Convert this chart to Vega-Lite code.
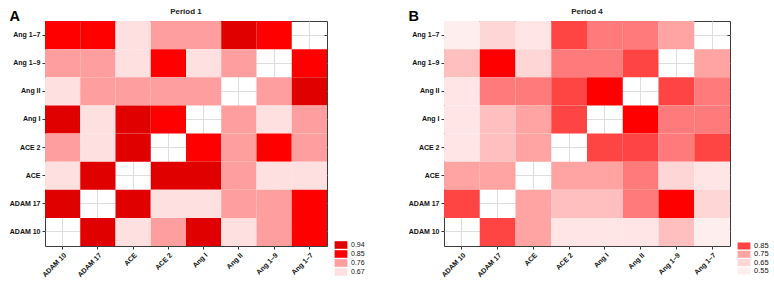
{
  "$schema": "https://vega.github.io/schema/vega-lite/v6.json",
  "padding": {"left": 8, "top": 7, "right": 0, "bottom": 0},
  "background": "white",
  "config": {
    "font": "Liberation Sans",
    "view": {"stroke": "#3c3c3c", "strokeWidth": 1},
    "rect": {"opacity": 1, "strokeWidth": 0},
    "axis": {
      "zindex": 0,
      "domain": false,
      "grid": true,
      "gridColor": "#dedede",
      "gridWidth": 1,
      "ticks": true,
      "tickColor": "#333333",
      "tickSize": 3,
      "labelFont": "Liberation Sans",
      "labelFontSize": 7,
      "labelFontWeight": "bold",
      "labelColor": "#111111",
      "labelPadding": 2
    },
    "title": {"font": "Liberation Sans", "fontSize": 8, "fontWeight": "bold", "color": "#222222", "offset": -7},
    "legend": {
      "labelFont": "Liberation Sans",
      "labelColor": "#111111",
      "symbolStrokeColor": "#333333",
      "symbolStrokeWidth": 1,
      "symbolOpacity": 1,
      "symbolSize": 64,
      "labelOffset": 6,
      "padding": 0
    }
  },
  "datasets": {
    "corr": [
      {"p": "Period 1", "y": "Ang 1–7", "x": "ADAM 10", "r": 0.85},
      {"p": "Period 1", "y": "Ang 1–7", "x": "ADAM 17", "r": 0.85},
      {"p": "Period 1", "y": "Ang 1–7", "x": "ACE", "r": 0.67},
      {"p": "Period 1", "y": "Ang 1–7", "x": "ACE 2", "r": 0.76},
      {"p": "Period 1", "y": "Ang 1–7", "x": "Ang I", "r": 0.76},
      {"p": "Period 1", "y": "Ang 1–7", "x": "Ang II", "r": 0.94},
      {"p": "Period 1", "y": "Ang 1–7", "x": "Ang 1–9", "r": 0.85},
      {"p": "Period 1", "y": "Ang 1–9", "x": "ADAM 10", "r": 0.76},
      {"p": "Period 1", "y": "Ang 1–9", "x": "ADAM 17", "r": 0.76},
      {"p": "Period 1", "y": "Ang 1–9", "x": "ACE", "r": 0.67},
      {"p": "Period 1", "y": "Ang 1–9", "x": "ACE 2", "r": 0.85},
      {"p": "Period 1", "y": "Ang 1–9", "x": "Ang I", "r": 0.67},
      {"p": "Period 1", "y": "Ang 1–9", "x": "Ang II", "r": 0.76},
      {"p": "Period 1", "y": "Ang 1–9", "x": "Ang 1–7", "r": 0.85},
      {"p": "Period 1", "y": "Ang II", "x": "ADAM 10", "r": 0.67},
      {"p": "Period 1", "y": "Ang II", "x": "ADAM 17", "r": 0.76},
      {"p": "Period 1", "y": "Ang II", "x": "ACE", "r": 0.76},
      {"p": "Period 1", "y": "Ang II", "x": "ACE 2", "r": 0.76},
      {"p": "Period 1", "y": "Ang II", "x": "Ang I", "r": 0.76},
      {"p": "Period 1", "y": "Ang II", "x": "Ang 1–9", "r": 0.76},
      {"p": "Period 1", "y": "Ang II", "x": "Ang 1–7", "r": 0.94},
      {"p": "Period 1", "y": "Ang I", "x": "ADAM 10", "r": 0.94},
      {"p": "Period 1", "y": "Ang I", "x": "ADAM 17", "r": 0.67},
      {"p": "Period 1", "y": "Ang I", "x": "ACE", "r": 0.94},
      {"p": "Period 1", "y": "Ang I", "x": "ACE 2", "r": 0.85},
      {"p": "Period 1", "y": "Ang I", "x": "Ang II", "r": 0.76},
      {"p": "Period 1", "y": "Ang I", "x": "Ang 1–9", "r": 0.67},
      {"p": "Period 1", "y": "Ang I", "x": "Ang 1–7", "r": 0.76},
      {"p": "Period 1", "y": "ACE 2", "x": "ADAM 10", "r": 0.76},
      {"p": "Period 1", "y": "ACE 2", "x": "ADAM 17", "r": 0.67},
      {"p": "Period 1", "y": "ACE 2", "x": "ACE", "r": 0.94},
      {"p": "Period 1", "y": "ACE 2", "x": "Ang I", "r": 0.85},
      {"p": "Period 1", "y": "ACE 2", "x": "Ang II", "r": 0.76},
      {"p": "Period 1", "y": "ACE 2", "x": "Ang 1–9", "r": 0.85},
      {"p": "Period 1", "y": "ACE 2", "x": "Ang 1–7", "r": 0.76},
      {"p": "Period 1", "y": "ACE", "x": "ADAM 10", "r": 0.67},
      {"p": "Period 1", "y": "ACE", "x": "ADAM 17", "r": 0.94},
      {"p": "Period 1", "y": "ACE", "x": "ACE 2", "r": 0.94},
      {"p": "Period 1", "y": "ACE", "x": "Ang I", "r": 0.94},
      {"p": "Period 1", "y": "ACE", "x": "Ang II", "r": 0.76},
      {"p": "Period 1", "y": "ACE", "x": "Ang 1–9", "r": 0.67},
      {"p": "Period 1", "y": "ACE", "x": "Ang 1–7", "r": 0.67},
      {"p": "Period 1", "y": "ADAM 17", "x": "ADAM 10", "r": 0.94},
      {"p": "Period 1", "y": "ADAM 17", "x": "ACE", "r": 0.94},
      {"p": "Period 1", "y": "ADAM 17", "x": "ACE 2", "r": 0.67},
      {"p": "Period 1", "y": "ADAM 17", "x": "Ang I", "r": 0.67},
      {"p": "Period 1", "y": "ADAM 17", "x": "Ang II", "r": 0.76},
      {"p": "Period 1", "y": "ADAM 17", "x": "Ang 1–9", "r": 0.76},
      {"p": "Period 1", "y": "ADAM 17", "x": "Ang 1–7", "r": 0.85},
      {"p": "Period 1", "y": "ADAM 10", "x": "ADAM 17", "r": 0.94},
      {"p": "Period 1", "y": "ADAM 10", "x": "ACE", "r": 0.67},
      {"p": "Period 1", "y": "ADAM 10", "x": "ACE 2", "r": 0.76},
      {"p": "Period 1", "y": "ADAM 10", "x": "Ang I", "r": 0.94},
      {"p": "Period 1", "y": "ADAM 10", "x": "Ang II", "r": 0.67},
      {"p": "Period 1", "y": "ADAM 10", "x": "Ang 1–9", "r": 0.76},
      {"p": "Period 1", "y": "ADAM 10", "x": "Ang 1–7", "r": 0.85},

      {"p": "Period 4", "y": "Ang 1–7", "x": "ADAM 10", "r": 0.55},
      {"p": "Period 4", "y": "Ang 1–7", "x": "ADAM 17", "r": 0.65},
      {"p": "Period 4", "y": "Ang 1–7", "x": "ACE", "r": 0.6},
      {"p": "Period 4", "y": "Ang 1–7", "x": "ACE 2", "r": 0.85},
      {"p": "Period 4", "y": "Ang 1–7", "x": "Ang I", "r": 0.8},
      {"p": "Period 4", "y": "Ang 1–7", "x": "Ang II", "r": 0.8},
      {"p": "Period 4", "y": "Ang 1–7", "x": "Ang 1–9", "r": 0.75},
      {"p": "Period 4", "y": "Ang 1–9", "x": "ADAM 10", "r": 0.7},
      {"p": "Period 4", "y": "Ang 1–9", "x": "ADAM 17", "r": 0.95},
      {"p": "Period 4", "y": "Ang 1–9", "x": "ACE", "r": 0.65},
      {"p": "Period 4", "y": "Ang 1–9", "x": "ACE 2", "r": 0.8},
      {"p": "Period 4", "y": "Ang 1–9", "x": "Ang I", "r": 0.8},
      {"p": "Period 4", "y": "Ang 1–9", "x": "Ang II", "r": 0.85},
      {"p": "Period 4", "y": "Ang 1–9", "x": "Ang 1–7", "r": 0.75},
      {"p": "Period 4", "y": "Ang II", "x": "ADAM 10", "r": 0.6},
      {"p": "Period 4", "y": "Ang II", "x": "ADAM 17", "r": 0.8},
      {"p": "Period 4", "y": "Ang II", "x": "ACE", "r": 0.8},
      {"p": "Period 4", "y": "Ang II", "x": "ACE 2", "r": 0.85},
      {"p": "Period 4", "y": "Ang II", "x": "Ang I", "r": 0.95},
      {"p": "Period 4", "y": "Ang II", "x": "Ang 1–9", "r": 0.85},
      {"p": "Period 4", "y": "Ang II", "x": "Ang 1–7", "r": 0.8},
      {"p": "Period 4", "y": "Ang I", "x": "ADAM 10", "r": 0.6},
      {"p": "Period 4", "y": "Ang I", "x": "ADAM 17", "r": 0.7},
      {"p": "Period 4", "y": "Ang I", "x": "ACE", "r": 0.75},
      {"p": "Period 4", "y": "Ang I", "x": "ACE 2", "r": 0.85},
      {"p": "Period 4", "y": "Ang I", "x": "Ang II", "r": 0.95},
      {"p": "Period 4", "y": "Ang I", "x": "Ang 1–9", "r": 0.8},
      {"p": "Period 4", "y": "Ang I", "x": "Ang 1–7", "r": 0.8},
      {"p": "Period 4", "y": "ACE 2", "x": "ADAM 10", "r": 0.6},
      {"p": "Period 4", "y": "ACE 2", "x": "ADAM 17", "r": 0.7},
      {"p": "Period 4", "y": "ACE 2", "x": "ACE", "r": 0.75},
      {"p": "Period 4", "y": "ACE 2", "x": "Ang I", "r": 0.85},
      {"p": "Period 4", "y": "ACE 2", "x": "Ang II", "r": 0.85},
      {"p": "Period 4", "y": "ACE 2", "x": "Ang 1–9", "r": 0.8},
      {"p": "Period 4", "y": "ACE 2", "x": "Ang 1–7", "r": 0.85},
      {"p": "Period 4", "y": "ACE", "x": "ADAM 10", "r": 0.75},
      {"p": "Period 4", "y": "ACE", "x": "ADAM 17", "r": 0.75},
      {"p": "Period 4", "y": "ACE", "x": "ACE 2", "r": 0.75},
      {"p": "Period 4", "y": "ACE", "x": "Ang I", "r": 0.75},
      {"p": "Period 4", "y": "ACE", "x": "Ang II", "r": 0.8},
      {"p": "Period 4", "y": "ACE", "x": "Ang 1–9", "r": 0.65},
      {"p": "Period 4", "y": "ACE", "x": "Ang 1–7", "r": 0.6},
      {"p": "Period 4", "y": "ADAM 17", "x": "ADAM 10", "r": 0.85},
      {"p": "Period 4", "y": "ADAM 17", "x": "ACE", "r": 0.75},
      {"p": "Period 4", "y": "ADAM 17", "x": "ACE 2", "r": 0.7},
      {"p": "Period 4", "y": "ADAM 17", "x": "Ang I", "r": 0.7},
      {"p": "Period 4", "y": "ADAM 17", "x": "Ang II", "r": 0.8},
      {"p": "Period 4", "y": "ADAM 17", "x": "Ang 1–9", "r": 0.95},
      {"p": "Period 4", "y": "ADAM 17", "x": "Ang 1–7", "r": 0.65},
      {"p": "Period 4", "y": "ADAM 10", "x": "ADAM 17", "r": 0.85},
      {"p": "Period 4", "y": "ADAM 10", "x": "ACE", "r": 0.75},
      {"p": "Period 4", "y": "ADAM 10", "x": "ACE 2", "r": 0.6},
      {"p": "Period 4", "y": "ADAM 10", "x": "Ang I", "r": 0.6},
      {"p": "Period 4", "y": "ADAM 10", "x": "Ang II", "r": 0.6},
      {"p": "Period 4", "y": "ADAM 10", "x": "Ang 1–9", "r": 0.7},
      {"p": "Period 4", "y": "ADAM 10", "x": "Ang 1–7", "r": 0.55}
    ]
  },
  "hconcat": [
    {
      "data": {"name": "corr"},
      "transform": [{"filter": "datum.p === 'Period 1'"}],
      "title": {"text": "Period 1", "frame": "group"},
      "width": 282,
      "height": 225,
      "encoding": {
        "x": {
          "field": "x", "type": "nominal",
          "scale": {"domain": ["ADAM 10", "ADAM 17", "ACE", "ACE 2", "Ang I", "Ang II", "Ang 1–9", "Ang 1–7"], "paddingInner": 0, "paddingOuter": 0},
          "axis": {"title": null, "labelAngle": -45}
        }
      },
      "layer": [
        {
          "mark": {"type": "rect", "opacity": 1},
          "encoding": {
            "y": {
              "field": "y", "type": "nominal",
              "scale": {"domain": ["Ang 1–7", "Ang 1–9", "Ang II", "Ang I", "ACE 2", "ACE", "ADAM 17", "ADAM 10"], "paddingInner": 0, "paddingOuter": 0},
              "axis": {"title": "A", "titleAngle": 0, "titleFontSize": 14.5, "titleFontWeight": "bold", "titleColor": "#000000", "titleAlign": "left", "titleBaseline": "alphabetic", "titleX": -36, "titleY": -0.5}
            },
            "color": {
              "field": "r", "type": "ordinal",
              "scale": {"domain": [0.94, 0.85, 0.76, 0.67], "range": ["#e00000", "#ff0000", "#ff9e9e", "#ffe0e0"]},
              "legend": {"title": null, "orient": "none", "legendX": 292, "legendY": 220, "labelFontSize": 7, "symbolType": "M-1.6,-0.95H1.6V0.95H-1.6Z", "rowPadding": 1}
            }
          }
        },
        {
          "mark": {"type": "rect", "opacity": 0},
          "encoding": {
            "y": {
              "field": "y", "type": "nominal",
              "axis": {"orient": "right", "title": null, "labels": false, "grid": false, "offset": -3, "tickSize": 3}
            }
          }
        }
      ],
      "resolve": {"axis": {"y": "independent"}}
    },
    {
      "data": {"name": "corr"},
      "transform": [{"filter": "datum.p === 'Period 4'"}],
      "title": {"text": "Period 4", "frame": "group"},
      "width": 286,
      "height": 225,
      "encoding": {
        "x": {
          "field": "x", "type": "nominal",
          "scale": {"domain": ["ADAM 10", "ADAM 17", "ACE", "ACE 2", "Ang I", "Ang II", "Ang 1–9", "Ang 1–7"], "paddingInner": 0, "paddingOuter": 0},
          "axis": {"title": null, "labelAngle": -45}
        }
      },
      "layer": [
        {
          "mark": {"type": "rect", "opacity": 1},
          "encoding": {
            "y": {
              "field": "y", "type": "nominal",
              "scale": {"domain": ["Ang 1–7", "Ang 1–9", "Ang II", "Ang I", "ACE 2", "ACE", "ADAM 17", "ADAM 10"], "paddingInner": 0, "paddingOuter": 0},
              "axis": {"title": "B", "titleAngle": 0, "titleFontSize": 14.5, "titleFontWeight": "bold", "titleColor": "#000000", "titleAlign": "left", "titleBaseline": "alphabetic", "titleX": -36, "titleY": -0.5}
            },
            "color": {
              "field": "r", "type": "ordinal",
              "scale": {"domain": [0.95, 0.85, 0.8, 0.75, 0.7, 0.65, 0.6, 0.55], "range": ["#ff0000", "#ff4444", "#ff7b7b", "#ffa3a3", "#ffbfbf", "#ffd6d6", "#ffe5e5", "#ffeeee"]},
              "legend": {"title": null, "orient": "none", "legendX": 296, "legendY": 221, "labelFontSize": 7.5, "values": [0.85, 0.75, 0.65, 0.55], "symbolType": "M-1.6,-0.875H1.6V0.875H-1.6Z", "rowPadding": 0.3}
            }
          }
        },
        {
          "mark": {"type": "rect", "opacity": 0},
          "encoding": {
            "y": {
              "field": "y", "type": "nominal",
              "axis": {"orient": "right", "title": null, "labels": false, "grid": false, "offset": -3, "tickSize": 3}
            }
          }
        }
      ],
      "resolve": {"axis": {"y": "independent"}}
    }
  ],
  "spacing": 41,
  "resolve": {"scale": {"color": "independent"}, "legend": {"color": "independent"}}
}
